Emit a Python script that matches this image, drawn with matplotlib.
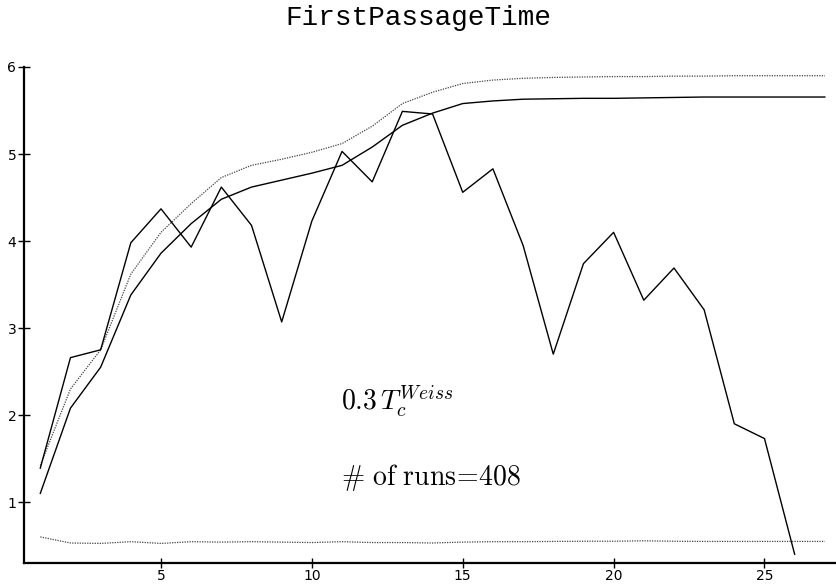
import matplotlib
matplotlib.use("Agg")
import matplotlib.pyplot as plt
import numpy as np

plt.rcParams["mathtext.fontset"] = "cm"

steps = np.arange(1, 28)

# upper envelope (dotted)
upper = [1.42, 2.30, 2.75, 3.62, 4.10, 4.43, 4.73, 4.87, 4.94, 5.02,
         5.12, 5.32, 5.58, 5.71, 5.81, 5.85, 5.87, 5.88, 5.885, 5.89,
         5.89, 5.895, 5.895, 5.90, 5.90, 5.90, 5.90]
# mean curve (solid, smooth)
mean = [1.10, 2.08, 2.55, 3.38, 3.86, 4.20, 4.48, 4.62, 4.70, 4.78,
        4.87, 5.08, 5.33, 5.47, 5.58, 5.61, 5.63, 5.635, 5.64, 5.64,
        5.645, 5.65, 5.655, 5.655, 5.655, 5.655, 5.655]
# per-step values (solid, jagged), last step is 26
per_step = [1.39, 2.66, 2.75, 3.98, 4.37, 3.93, 4.62, 4.18, 3.07, 4.23,
            5.03, 4.68, 5.49, 5.46, 4.56, 4.83, 3.95, 2.70, 3.74, 4.10,
            3.32, 3.69, 3.21, 1.90, 1.73, 0.40]
# spread (dotted, bottom)
spread = [0.60, 0.53, 0.525, 0.545, 0.525, 0.545, 0.54, 0.545, 0.54, 0.535,
          0.545, 0.535, 0.535, 0.53, 0.54, 0.545, 0.545, 0.548, 0.55, 0.55,
          0.555, 0.55, 0.548, 0.548, 0.548, 0.548, 0.548]

fig = plt.figure(figsize=(8.36, 5.84), dpi=100)
ax = fig.add_axes([24 / 836, 21 / 584, 1 - 24 / 836, 496 / 584])

dot = (0, (1, 1))
ax.plot(steps, upper, color="#444444", lw=0.9, ls=dot)
ax.plot(steps, mean, color="black", lw=1.0)
ax.plot(steps[:len(per_step)], per_step, color="black", lw=1.0)
ax.plot(steps, spread, color="#444444", lw=0.9, ls=dot)

ax.set_xlim(0.46, 27.37)
ax.set_ylim(0.3, 6.0)
ax.set_xticks([5, 10, 15, 20, 25])
ax.set_yticks([1, 2, 3, 4, 5, 6])

for side in ("top", "right"):
    ax.spines[side].set_visible(False)
for side in ("left", "bottom"):
    ax.spines[side].set_linewidth(1.6)
ax.tick_params(axis="y", direction="inout", length=9, width=1.0,
               labelsize=10, pad=1)
ax.tick_params(axis="x", direction="inout", length=7, width=1.0,
               labelsize=10, pad=1)

ax.text(10.95, 2.15, r"$0.3\,T_c^{Weiss}$", fontsize=20, va="center", ha="left")
ax.text(10.95, 1.28, r"$\#\ \mathrm{of\ runs}\!=\!408$", fontsize=20,
        va="center", ha="left")

fig.text(0.5, 1 - 18 / 584, "FirstPassageTime", family="Liberation Mono",
         fontsize=20, ha="center", va="center")

fig.savefig("out.png", dpi=100)
